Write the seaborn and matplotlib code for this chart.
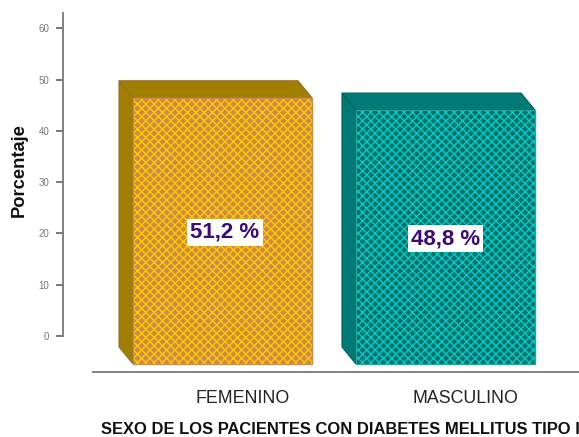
import matplotlib
matplotlib.use('Agg')
import matplotlib.pyplot as plt
from matplotlib.patches import Rectangle
from matplotlib.transforms import ScaledTranslation
import pandas as pd
import seaborn as sns

categories = ['FEMENINO', 'MASCULINO']
percent_labels = ['51,2 %', '48,8 %']
# heights as measured against the axis, the bars start below zero
bar_heights = [51.9, 49.5]
bar_base = -5.46
y_ticks = [0, 10, 20, 30, 40, 50, 60]
ylabel_text = 'Porcentaje'
xlabel_text = 'SEXO DE LOS PACIENTES CON DIABETES MELLITUS TIPO I'

side_colors = ['#A07F00', '#007A74']
face_colors = ['#CC8B45', '#00716B']
hatch_colors = ['#FFC800', '#00CCC8']
edge_colors = ['#C98F4A', '#2AA39B']
side_edges = ['#96702A', '#00605B']

sns.set_style('white')
plt.rcParams['font.family'] = ['Liberation Sans', 'DejaVu Sans']
plt.rcParams['hatch.linewidth'] = 1.0

data = pd.DataFrame({'sexo': categories, 'altura': bar_heights})

W, H = 579, 437
fig = plt.figure(figsize = (W/100, H/100), dpi = 100)
ax = fig.add_axes([63/W, (H - 372)/H, 516/W, 359/H])

sns.barplot(data = data, x = 'sexo', y = 'altura', hue = 'sexo', palette = face_colors,
            width = 179/223, bottom = bar_base, legend = False, ax = ax, saturation = 1, linewidth = 0)

ax.set_xlim((63 - 222.5)/223, (579 - 222.5)/223)
ax.set_ylim((336 - 372)/5.13, (336 - 13)/5.13)

depth_x = 14/223
depth_y = 17/5.13
label_nudge = [0.01, 0.0]

for i, bar in enumerate(ax.patches):
    x0 = bar.get_x()
    x1 = x0 + bar.get_width()
    y0 = bar.get_y()
    y1 = y0 + bar.get_height()

    bar.set_hatch('xxxx')
    bar.set_edgecolor(hatch_colors[i])
    bar.set_linewidth(0)
    ax.add_patch(Rectangle((x0, y0), x1 - x0, y1 - y0, fill = False, edgecolor = edge_colors[i], linewidth = 1, zorder = 4))

    # fake 3d sides
    ax.fill([x0 - depth_x, x0, x0, x0 - depth_x], [y1 + depth_y, y1, y0, y0 + depth_y],
            facecolor = side_colors[i], edgecolor = side_edges[i], linewidth = 0.8, zorder = 3)
    ax.fill([x0 - depth_x, x1 - depth_x, x1, x0], [y1 + depth_y, y1 + depth_y, y1, y1],
            facecolor = side_colors[i], edgecolor = side_edges[i], linewidth = 0.8, zorder = 3)

    ax.text(x0 + (x1 - x0)/2 + label_nudge[i], (y0 + y1)/2 - 0.3, percent_labels[i], ha = 'center', va = 'center',
            color = '#3C0A78', fontsize = 16, fontweight = 'bold', zorder = 6,
            bbox = dict(facecolor = 'white', edgecolor = 'none', pad = 2.4))

sns.despine(ax = ax)
ax.spines['left'].set_bounds(0, (336 - 13)/5.13)
ax.spines['left'].set_color('#777777')
ax.spines['left'].set_linewidth(1.3)
ax.spines['bottom'].set_bounds((93 - 222.5)/223, (579 - 222.5)/223)
ax.spines['bottom'].set_color('#777777')
ax.spines['bottom'].set_linewidth(1.3)

ax.set_yticks(y_ticks)
ax.tick_params(axis = 'y', length = 5, width = 1.1, color = '#555555', labelsize = 7, labelcolor = '#777777', pad = 5, left = True)
ax.tick_params(axis = 'x', length = 0, labelsize = 12.8, labelcolor = '#222222', pad = 13)

# names sit to the right of the bar centres
shift = ScaledTranslation(20/100, 0, fig.dpi_scale_trans)
for label in ax.get_xticklabels():
    label.set_transform(label.get_transform() + shift)

ax.set_xlabel('')
ax.set_ylabel(ylabel_text, fontsize = 13.2, fontweight = 'bold', color = '#111111')
ax.yaxis.set_label_coords((28 - 63)/516, (372 - 170)/359)

fig.text(101/W, (H - 429)/H, xlabel_text, fontsize = 11.9, fontweight = 'bold', color = '#111111', va = 'center')

fig.savefig('out.png', dpi = 100)
